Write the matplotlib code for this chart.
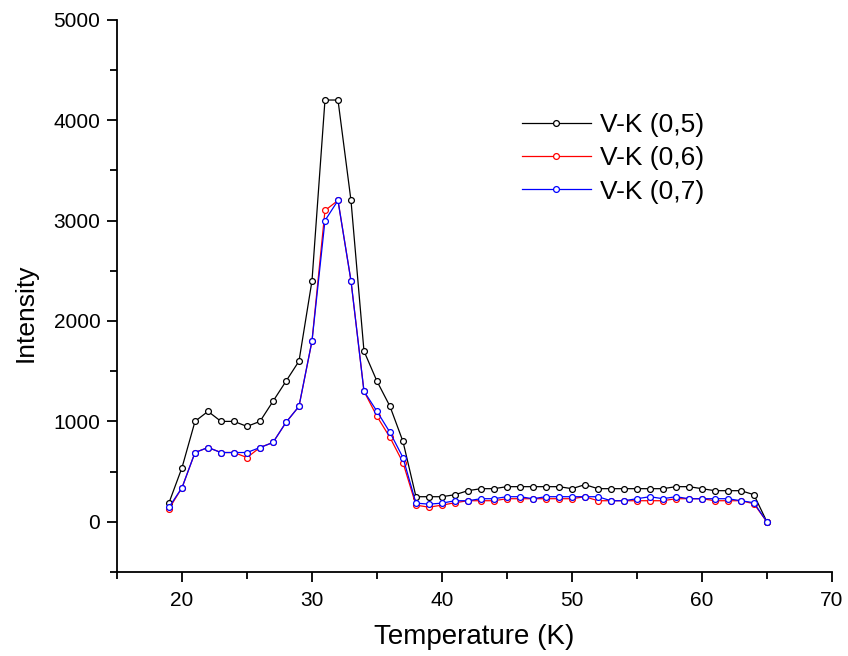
import matplotlib
matplotlib.use("Agg")
import matplotlib.pyplot as plt
from matplotlib.ticker import MultipleLocator

temperature = list(range(19, 66))

vk05 = [190, 540, 1000, 1100, 1000, 1000, 950, 1000, 1200, 1400, 1600, 2400, 4200, 4200,
        3200, 1700, 1400, 1150, 800,
        250, 250, 250, 270, 310, 330, 330, 350, 350, 350, 350, 350, 330, 370, 330, 330,
        330, 330, 330, 330, 350, 350, 330, 310, 310, 310, 270, 0]
vk06 = [130, 340, 690, 740, 690, 690, 640, 740, 790, 990, 1150, 1800, 3100, 3200,
        2400, 1300, 1050, 840, 590,
        166, 146, 166, 190, 210, 210, 210, 230, 230, 230, 230, 230, 230, 250, 210, 210,
        210, 210, 210, 210, 230, 230, 230, 210, 210, 210, 180, 0]
vk07 = [146, 340, 690, 740, 690, 690, 690, 740, 790, 990, 1150, 1800, 3000, 3200,
        2400, 1300, 1100, 890, 640,
        186, 176, 186, 210, 210, 230, 230, 250, 250, 230, 250, 250, 250, 250, 250, 210,
        210, 230, 250, 230, 250, 230, 230, 230, 230, 210, 190, 0]

series_labels = ["V-K (0,5)", "V-K (0,6)", "V-K (0,7)"]
series_colors = ["black", "#ff0000", "#0000ff"]

plt.rcParams['font.family'] = ['Liberation Sans', 'DejaVu Sans']

fig = plt.figure(figsize=(8.48, 6.56), dpi=100)
ax = fig.add_axes([0.138, 0.128, 0.843, 0.842])

for ys, lab, col in zip([vk05, vk06, vk07], series_labels, series_colors):
    ax.plot(temperature, ys, color=col, lw=0.9, marker='o', markersize=4.2,
            markerfacecolor='white', markeredgecolor=col, markeredgewidth=0.9, label=lab)

ax.set_xlim(15, 70)
ax.set_ylim(-500, 5000)
ax.xaxis.set_major_locator(MultipleLocator(10))
ax.xaxis.set_minor_locator(MultipleLocator(5))
ax.yaxis.set_major_locator(MultipleLocator(1000))
ax.yaxis.set_minor_locator(MultipleLocator(500))
ax.spines['top'].set_visible(False)
ax.spines['right'].set_visible(False)
ax.spines['left'].set_linewidth(1.3)
ax.spines['bottom'].set_linewidth(1.3)
ax.tick_params(which='major', direction='out', length=7, width=1.3, labelsize=15, pad=5)
ax.tick_params(which='minor', direction='out', length=5, width=1.3)
ax.tick_params(axis='x', which='major', pad=7)

ax.set_xlabel("Temperature (K)", fontsize=20, labelpad=10)
ax.set_ylabel("Intensity", fontsize=19)
ax.yaxis.set_label_coords(-0.111, 0.469)

ax.legend(loc='upper left', bbox_to_anchor=(0.552, 0.850), frameon=False, fontsize=19,
          handlelength=2.6, handletextpad=0.34, labelspacing=0.35, borderaxespad=0)

fig.savefig("out.png", dpi=100)
